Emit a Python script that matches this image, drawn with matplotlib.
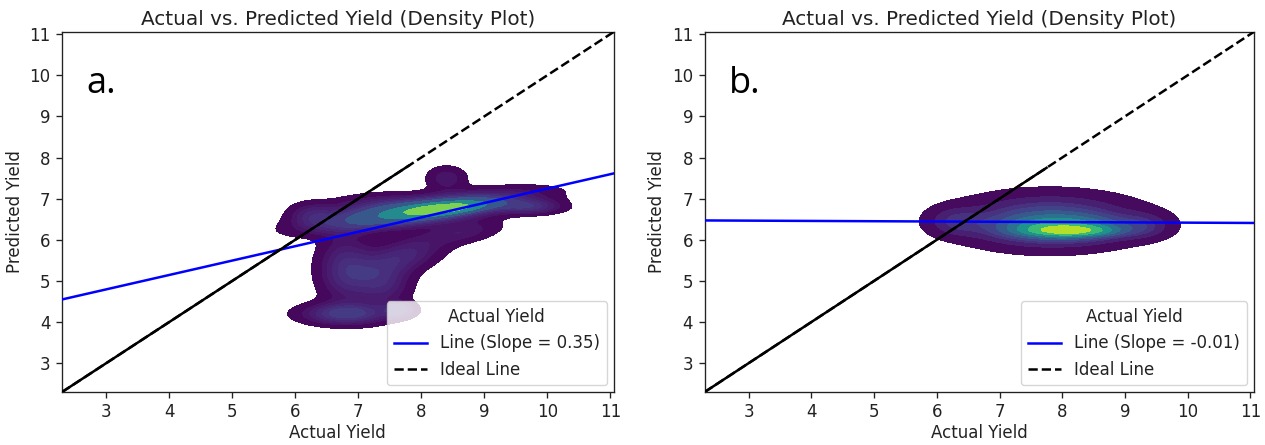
import numpy as np
import matplotlib
matplotlib.use("Agg")
import matplotlib.pyplot as plt

# ---------------- data ----------------
lims = [2.3, 11.05]
xticks = [3, 4, 5, 6, 7, 8, 9, 10, 11]
yticks = [3, 4, 5, 6, 7, 8, 9, 10, 11]
panel_labels = ["a.", "b."]
title = "Actual vs. Predicted Yield (Density Plot)"

# fitted lines (slope, intercept)
slopes = [0.35, -0.007]
intercepts = [3.745, 6.487]
solid_ideal_end = [7.8, 7.75]

# density components: mean x, mean y, sd x, sd y, corr, weight
dens_a_mx = [8.0, 8.3, 6.25, 9.75, 8.4, 7.2, 6.8, 7.7, 6.8, 7.65, 8.7, 7.4]
dens_a_my = [6.7, 6.75, 6.62, 6.8, 7.5, 6.9, 5.3, 5.6, 4.2, 4.3, 6.2, 4.9]
dens_a_sx = [1.0, 0.4, 0.25, 0.35, 0.22, 0.5, 0.3, 0.45, 0.48, 0.18, 0.4, 0.3]
dens_a_sy = [0.28, 0.1, 0.2, 0.12, 0.2, 0.18, 0.55, 0.35, 0.18, 0.12, 0.2, 0.35]
dens_a_rho = [0.7, 0.6, 0.0, 0.0, 0.0, 0.3, 0.0, 0.5, 0.0, 0.0, 0.4, 0.0]
dens_a_w = [2.0, 0.5, 0.12, 0.14, 0.1, 0.15, 0.6, 0.45, 0.4, 0.06, 0.15, 0.3]

dens_b_mx = [7.8, 8.0, 8.15, 6.3, 9.3]
dens_b_my = [6.45, 6.3, 6.22, 6.45, 6.35]
dens_b_sx = [0.85, 0.6, 0.45, 0.28, 0.28]
dens_b_sy = [0.39, 0.18, 0.08, 0.22, 0.2]
dens_b_rho = [0.0, 0.0, 0.0, 0.0, 0.0]
dens_b_w = [1.3, 0.6, 0.22, 0.1, 0.08]

comps = [
    (dens_a_mx, dens_a_my, dens_a_sx, dens_a_sy, dens_a_rho, dens_a_w),
    (dens_b_mx, dens_b_my, dens_b_sx, dens_b_sy, dens_b_rho, dens_b_w),
]


def density(X, Y, mx, my, sx, sy, rho, w):
    Z = np.zeros_like(X)
    for a, b, c, d, r, ww in zip(mx, my, sx, sy, rho, w):
        u = (X - a) / c
        v = (Y - b) / d
        q = (u * u - 2 * r * u * v + v * v) / (1 - r * r)
        Z += ww * np.exp(-0.5 * q) / (2 * np.pi * c * d * np.sqrt(1 - r * r))
    return Z


def iso_levels(Z, props):
    vals = np.sort(Z.ravel())[::-1]
    cum = np.cumsum(vals) / vals.sum()
    idx = np.searchsorted(cum, 1 - np.asarray(props))
    return np.take(vals, idx, mode="clip")


plt.rcParams["text.color"] = "#222222"
plt.rcParams["axes.labelcolor"] = "#222222"
plt.rcParams["xtick.color"] = "#222222"
plt.rcParams["ytick.color"] = "#222222"
plt.rcParams["axes.edgecolor"] = "#222222"

fig = plt.figure(figsize=(12.65, 4.45), dpi=100)
axes = [fig.add_axes([0.049, 0.119, 0.436, 0.809]),
        fig.add_axes([0.557, 0.119, 0.434, 0.809])]

gx = np.linspace(2.0, 12.0, 200)
gy = np.linspace(2.0, 12.0, 200)
X, Y = np.meshgrid(gx, gy)

for i, ax in enumerate(axes):
    Z = density(X, Y, *comps[i])
    lv = iso_levels(Z, np.linspace(0.05, 1, 10))
    lv = np.unique(np.append(lv, Z.max()))
    ax.contourf(X, Y, Z, levels=lv, cmap="viridis", zorder=1)

    xs = np.array(lims)
    ax.plot(xs, slopes[i] * xs + intercepts[i], color="blue", lw=1.8,
            label=f"Line (Slope = {slopes[i]:.2f})", zorder=3)
    ax.plot([lims[0], solid_ideal_end[i]], [lims[0], solid_ideal_end[i]],
            color="black", lw=1.8, zorder=3)
    ax.plot(lims, lims, color="black", lw=1.8, ls="--", label="Ideal Line", zorder=3)

    ax.set_xlim(lims)
    ax.set_ylim(lims)
    ax.set_xticks(xticks)
    ax.set_yticks(yticks)
    ax.tick_params(labelsize=12, length=4.2, width=0.96, pad=4)
    for s in ax.spines.values():
        s.set_linewidth(0.96)
    ax.set_xlabel("Actual Yield", fontsize=12, labelpad=2)
    ax.set_ylabel("Predicted Yield", fontsize=12, labelpad=4)
    ax.set_title(title, fontsize=14.4, pad=5)
    ax.text(0.045, 0.83, panel_labels[i], transform=ax.transAxes,
            fontsize=26, family="Open Sans", color="black")
    leg = ax.legend(title="Actual Yield", loc="lower right", fontsize=12,
                    title_fontsize=12, borderaxespad=0.4)

fig.savefig("out.png", dpi=100)
